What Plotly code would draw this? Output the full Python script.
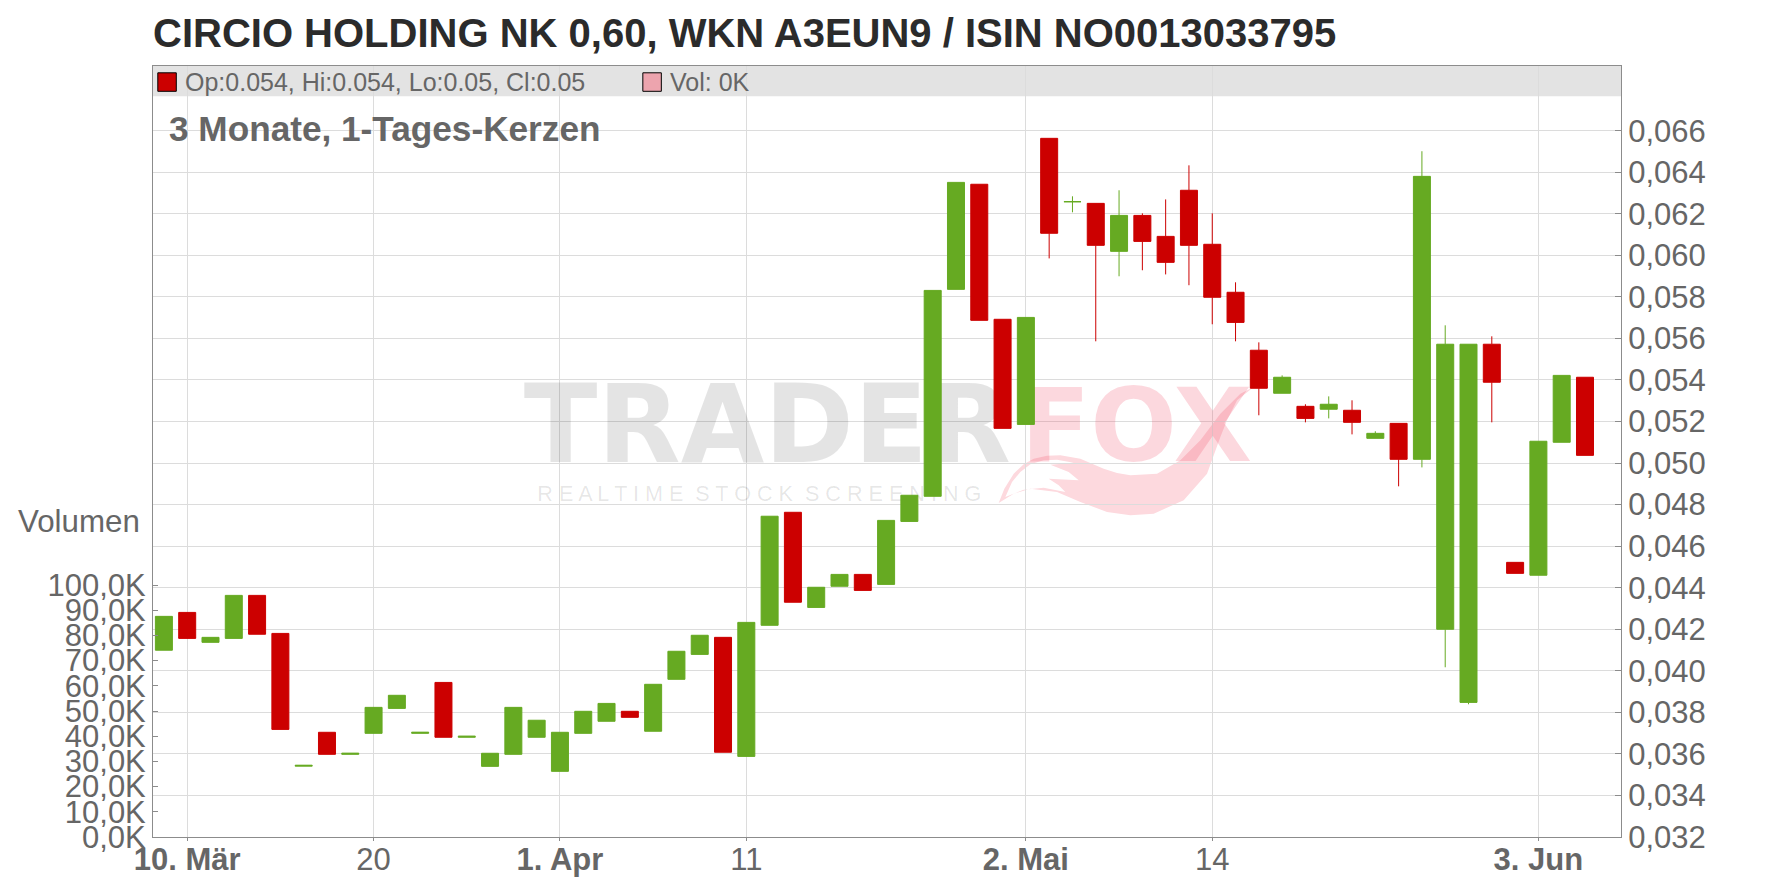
import plotly.graph_objects as go

W, H = 1776, 888
L, R, T, B = 152.7, 1620.6, 65.7, 836.7

title = "CIRCIO HOLDING NK 0,60, WKN A3EUN9 / ISIN NO0013033795"
sessions = ["07.03","10.03","11.03","12.03","13.03","14.03","17.03","18.03","19.03","20.03","21.03",
            "24.03","25.03","26.03","27.03","28.03","31.03","01.04","02.04","03.04","04.04",
            "07.04","08.04","09.04","10.04","11.04","14.04","15.04","16.04","17.04",
            "22.04","23.04","24.04","25.04","28.04","29.04","30.04","02.05",
            "05.05","06.05","07.05","08.05","09.05","12.05","13.05","14.05","15.05","16.05",
            "19.05","20.05","21.05","22.05","23.05","26.05","27.05","28.05","29.05","30.05",
            "02.06","03.06","04.06","05.06"]
opens = [.04099,.04281,.04137,.04156,.04363,.0418,.03541,.03704,.03598,.03699,.03819,.03699,.03944,.0368,.0354,.03598,.0368,.03516,.03699,.03757,.03805,
         .03709,.03959,.04079,.04161,.03588,.04219,.04763,.04305,.04407,.04464,.04416,.04719,.0484,.05836,.06342,.05692,.05186,
         .06563,.06258,.0625,.06019,.06192,.06091,.06313,.06053,.05822,.05543,.05336,.05273,.05259,.05254,.05119,.05191,.05018,.042,.03848,.05572,.04522,.0446,.051,.05413]
highs = [.04262,.04281,.04161,.04363,.04363,.0418,.03545,.03704,.03603,.03824,.03882,.03704,.03944,.03685,.03603,.03824,.03762,.03704,.03805,.03843,.03805,
         .03935,.04094,.04171,.04161,.04233,.04744,.04763,.04402,.04464,.04464,.04724,.04845,.05831,.06351,.06342,.05692,.05701,
         .06563,.06284,.0625,.06313,.06202,.06269,.06433,.06202,.0587,.05581,.05422,.05283,.05321,.05302,.05153,.05191,.06501,.05663,.05572,.0561,.04522,.05105,.05422,.05413]
lows = [.04099,.04156,.04137,.04156,.04176,.03718,.03541,.03598,.03598,.03699,.03819,.03699,.0368,.0368,.0354,.03598,.0368,.03516,.03699,.03757,.03776,
        .03709,.03959,.04079,.03608,.03588,.04219,.0433,.04305,.04407,.04387,.04416,.04719,.0484,.05836,.05687,.05167,.05186,
        .05985,.06207,.05586,.05899,.05928,.05908,.05856,.05668,.05586,.0523,.05336,.05196,.05215,.05138,.05119,.04888,.04979,.04017,.03839,.05196,.04469,.0446,.051,.05037]
closes = [.04262,.04156,.04161,.04363,.04176,.03718,.03545,.03598,.03603,.03824,.03882,.03704,.0368,.03685,.03603,.03824,.03762,.03704,.03805,.03843,.03776,
          .03935,.04094,.04171,.03608,.04233,.04744,.0433,.04402,.04464,.04387,.04724,.04845,.05831,.06351,.05687,.05167,.05701,
          .06106,.06258,.06048,.06192,.06067,.05966,.06048,.05798,.05677,.0536,.05413,.05215,.05283,.05196,.05143,.05018,.0638,.05572,.05572,.05389,.04469,.05105,.05422,.05037]
price_ticks = [.032,.034,.036,.038,.040,.042,.044,.046,.048,.050,.052,.054,.056,.058,.060,.062,.064,.066]
price_labels = ["0,032","0,034","0,036","0,038","0,040","0,042","0,044","0,046","0,048","0,050","0,052","0,054","0,056","0,058","0,060","0,062","0,064","0,066"]
vol_ticks = [0,10000,20000,30000,40000,50000,60000,70000,80000,90000,100000]
vol_labels = ["0,0K","10,0K","20,0K","30,0K","40,0K","50,0K","60,0K","70,0K","80,0K","90,0K","100,0K"]
date_ticks = ["10.03","20.03","01.04","11.04","02.05","14.05","03.06"]
date_labels = ["<b>10. Mär</b>","20","<b>1. Apr</b>","11","<b>2. Mai</b>","14","<b>3. Jun</b>"]

FONT = "Liberation Sans"
GREY = "#666666"
AXIS = "#8c8c8c"
GRID = "#dcdcdc"
GREEN = "#66aa22"
RED = "#cc0000"
PINK = "#fdd9de"

X0, DX = 163.6, 23.295
xr = [(L - X0) / DX, (R - X0) / DX]
PDY = 41.55
VDY = 25.2
pr = [.032, .032 + (B - T) / PDY * .002]
vr = [0, (B - T) / VDY * 10000]

def fx(px): return (px - L) / (R - L)
def fy(py): return (B - py) / (B - T)
def dx(px): return (px - X0) / DX
def dv(py): return (B - py) / VDY * 10000

fig = go.Figure()
# watermark sits in the base subplot, below the candles
fig.add_trace(go.Scatter(x=[dx(767)], y=[dv(435)], mode="text", text=["TRADER"], hoverinfo="skip",
                         textfont=dict(family="DejaVu Sans", size=108, color="rgba(0,0,0,0.105)", weight="bold"),
                         showlegend=False, xaxis="x", yaxis="y"))
fig.add_trace(go.Scatter(x=[dx(1136)], y=[dv(435)], mode="text", text=["FOX"], hoverinfo="skip",
                         textfont=dict(family="DejaVu Sans", size=102, color="rgba(240,60,90,0.2)", weight="bold"),
                         showlegend=False, xaxis="x", yaxis="y"))
fig.add_trace(go.Scatter(x=[dx(759)], y=[dv(495)], mode="text", text=["R E A L T I M E  S T O C K  S C R E E N I N G"], hoverinfo="skip",
                         textfont=dict(family=FONT, size=21.6, color="rgba(0,0,0,0.1)"),
                         showlegend=False, xaxis="x", yaxis="y"))
fig.add_trace(go.Candlestick(x=[sessions.index(s) for s in sessions], open=opens, high=highs, low=lows, close=closes,
                             increasing=dict(line=dict(color=GREEN, width=1), fillcolor=GREEN),
                             decreasing=dict(line=dict(color=RED, width=1), fillcolor=RED),
                             whiskerwidth=0, showlegend=False, xaxis="x", yaxis="y2"))

def pts(zp):
    return [(fx(980 + a / 3), fy(380 + b / 3)) for a, b in zp]

def path(zp):
    p = pts(zp)
    return "M" + " L".join(f"{a:.5f},{b:.5f}" for a, b in p) + " Z"

fox_outer = [(55,368),(72,325),(100,280),(130,252),(160,235),(200,226),(240,225),(300,235),(370,265),(410,278),(450,285),(530,280),
             (600,240),(660,180),(720,100),(780,40),(820,20),(770,60),(740,120),(720,170),(680,280),(610,360),(520,400),(450,405),
             (380,395),(300,365),(230,335),(150,325),(100,340)]
fox_hole = [(75,350),(95,305),(120,275),(150,252),(190,240),(230,238),(280,247),(210,253),(265,275),(295,300),(205,295),(235,315),
            (255,335),(190,322),(130,328)]

shapes = [
    dict(type="rect", xref="paper", yref="paper", x0=0, x1=1, y0=fy(96), y1=1, fillcolor="#e3e3e3", line_width=0, layer="below"),
    dict(type="path", xref="paper", yref="paper", path=path(fox_outer) + " " + path(fox_hole), fillcolor=PINK, line_width=0, layer="below"),
    dict(type="rect", xref="paper", yref="paper", x0=fx(157.5), x1=fx(176), y0=fy(91), y1=fy(72.5), fillcolor=RED, line=dict(color="#000000", width=1)),
    dict(type="rect", xref="paper", yref="paper", x0=fx(642.5), x1=fx(661), y0=fy(91), y1=fy(72.5), fillcolor="#eda4ae", line=dict(color="#000000", width=1)),
]

def label(px, py, text, size, color=GREY, anchor="left"):
    return dict(xref="paper", yref="paper", x=fx(px), y=fy(py), text=text, showarrow=False, xanchor=anchor, yanchor="middle",
                font=dict(family=FONT, size=size, color=color), borderpad=0, borderwidth=0)

annotations = [
    label(153, 33, f"<b>{title}</b>", 40, "#2b2b2b"),
    label(185, 82, "Op:0.054, Hi:0.054, Lo:0.05, Cl:0.05", 25),
    label(670, 82, "Vol: 0K", 25),
    label(169, 128, "<b>3 Monate, 1-Tages-Kerzen</b>", 35.2),
    label(140, 521, "Volumen", 31.3, anchor="right"),
]

fig.update_layout(
    width=W, height=H, autosize=False, paper_bgcolor="white", plot_bgcolor="white",
    margin=dict(l=L, r=W - R, t=T, b=H - B, pad=0), boxgap=0.27, boxgroupgap=0, showlegend=False,
    font=dict(family=FONT, color=GREY, size=30),
    shapes=shapes, annotations=annotations,
    xaxis=dict(type="linear", range=xr, rangeslider=dict(visible=False), tickmode="array", automargin=False,
               tickvals=[sessions.index(s) for s in date_ticks], ticktext=date_labels, ticklabelstandoff=-8,
               showgrid=True, gridcolor=GRID, gridwidth=1, zeroline=False, showline=True, linecolor=AXIS, linewidth=1,
               mirror=True, ticks="outside", ticklen=3, tickcolor=AXIS, tickfont=dict(size=31, color=GREY, family=FONT)),
    yaxis=dict(range=vr, tickmode="array", tickvals=vol_ticks, ticktext=vol_labels, side="left", showgrid=False, zeroline=False, automargin=False,
               showline=True, linecolor=AXIS, linewidth=1, ticks="inside", ticklen=5, tickcolor=AXIS,
               tickfont=dict(size=31, color=GREY, family=FONT)),
    yaxis2=dict(range=pr, overlaying="y", side="right", tickmode="array", tickvals=price_ticks, ticktext=price_labels, showgrid=True, automargin=False,
                gridcolor=GRID, gridwidth=1, zeroline=False, showline=True, linecolor=AXIS, linewidth=1, ticks="inside", ticklen=6,
                tickcolor=AXIS, tickfont=dict(size=31, color=GREY, family=FONT)),
)
fig.write_html("out.html", config=dict(displayModeBar=False), post_script="document.body.style.margin='0';")
